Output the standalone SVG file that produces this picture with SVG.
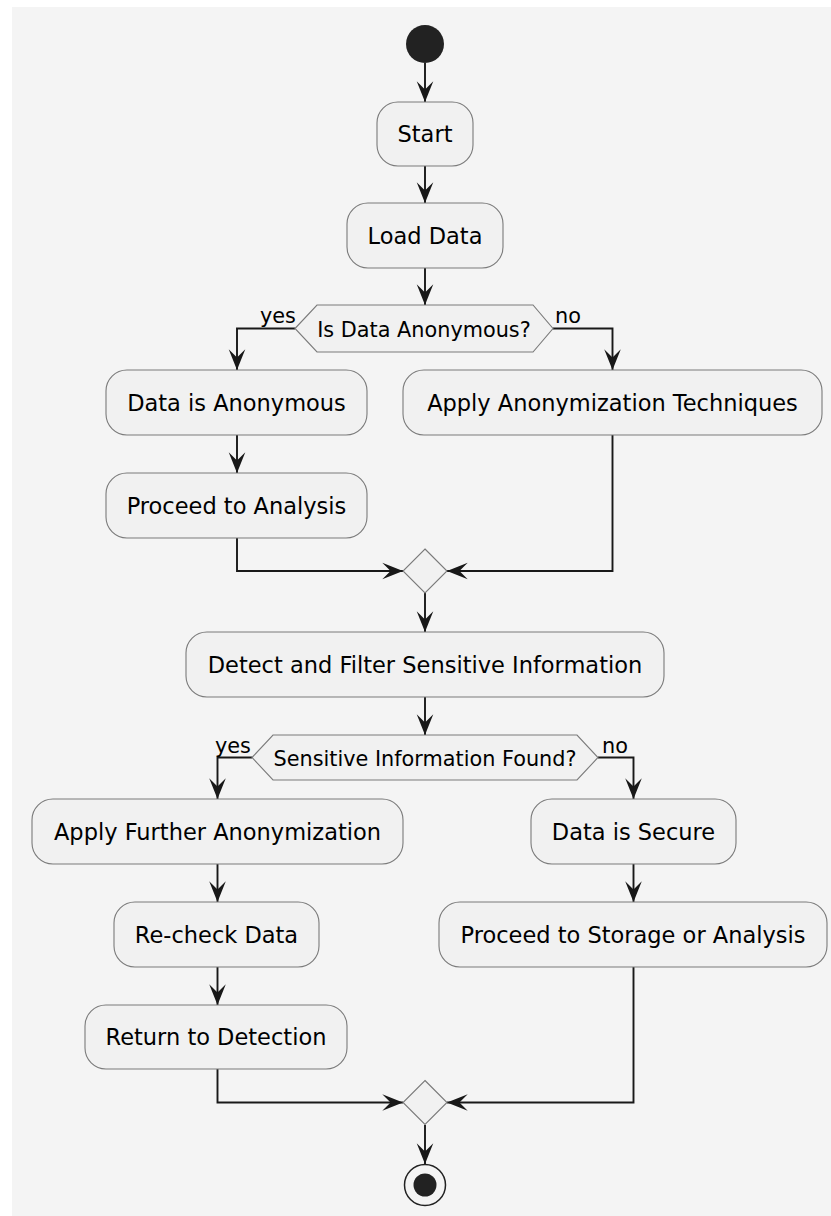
<svg xmlns="http://www.w3.org/2000/svg" width="831" height="1216" viewBox="0 0 831 1216">
<defs>
<style>
.bg{fill:#F4F4F4}
.box{fill:#F1F1F1;stroke:#7a7a7a;stroke-width:1.1}
.t{font-family:"DejaVu Sans",sans-serif;font-size:22.5px;fill:#000;text-anchor:middle}
.ht{font-family:"DejaVu Sans",sans-serif;font-size:20.8px;fill:#000;text-anchor:middle}
.lb{font-family:"DejaVu Sans",sans-serif;font-size:20.8px;fill:#000}
.c{fill:none;stroke:#181818;stroke-width:1.9}
</style>
<marker id="ah" markerUnits="userSpaceOnUse" markerWidth="24" markerHeight="20" viewBox="-20 -9 22 18" refX="0" refY="0" orient="auto" overflow="visible">
<path d="M0,0 L-19,-7.6 L-11.4,0 L-19,7.6 Z" fill="#181818"/>
</marker>
</defs>
<rect x="12" y="7" width="819" height="1209" class="bg"/>
<g id="connectors">
<path class="c" d="M425,63 L425,102" marker-end="url(#ah)"/>
<path class="c" d="M425,166 L425,203" marker-end="url(#ah)"/>
<path class="c" d="M425,268 L425,305" marker-end="url(#ah)"/>
<path class="c" d="M295,328.5 L237,328.5 L237,370" marker-end="url(#ah)"/>
<path class="c" d="M553,328.5 L612.5,328.5 L612.5,370" marker-end="url(#ah)"/>
<path class="c" d="M237,435 L237,473" marker-end="url(#ah)"/>
<path class="c" d="M237,538 L237,571 L403,571" marker-end="url(#ah)"/>
<path class="c" d="M612.5,435 L612.5,571 L447,571" marker-end="url(#ah)"/>
<path class="c" d="M425,593 L425,632" marker-end="url(#ah)"/>
<path class="c" d="M425,697 L425,735" marker-end="url(#ah)"/>
<path class="c" d="M252,757.5 L217.5,757.5 L217.5,799" marker-end="url(#ah)"/>
<path class="c" d="M598,757.5 L633.5,757.5 L633.5,799" marker-end="url(#ah)"/>
<path class="c" d="M217.5,864 L217.5,902" marker-end="url(#ah)"/>
<path class="c" d="M217.5,967 L217.5,1005" marker-end="url(#ah)"/>
<path class="c" d="M217.5,1069 L217.5,1102.5 L403,1102.5" marker-end="url(#ah)"/>
<path class="c" d="M633.5,864 L633.5,902" marker-end="url(#ah)"/>
<path class="c" d="M633.5,967 L633.5,1102.5 L447,1102.5" marker-end="url(#ah)"/>
<path class="c" d="M425,1125 L425,1164" marker-end="url(#ah)"/>
<text class="lb" x="260" y="323">yes</text>
<text class="lb" x="555" y="323">no</text>
<text class="lb" x="215" y="753">yes</text>
<text class="lb" x="602" y="753">no</text>
</g>
<g id="start"><circle cx="425" cy="44" r="19" fill="#222"/></g>
<g id="n-start"><rect class="box" x="377" y="102" width="96" height="64" rx="21"/><text class="t" x="425" y="142">Start</text></g>
<g id="n-load"><rect class="box" x="347" y="203" width="156" height="65" rx="21"/><text class="t" x="425" y="243.5">Load Data</text></g>
<g id="d-anon"><polygon class="box" points="295,328.5 317,305 533,305 553,328.5 533,352 317,352"/><text class="ht" x="424" y="336.5">Is Data Anonymous?</text></g>
<g id="n-isanon"><rect class="box" x="106" y="370" width="261" height="65" rx="21"/><text class="t" x="236.5" y="410.5">Data is Anonymous</text></g>
<g id="n-applyanon"><rect class="box" x="403" y="370" width="419" height="65" rx="21"/><text class="t" x="612.5" y="410.5">Apply Anonymization Techniques</text></g>
<g id="n-proceed"><rect class="box" x="106" y="473" width="261" height="65" rx="21"/><text class="t" x="236.5" y="513.5">Proceed to Analysis</text></g>
<g id="m1"><polygon class="box" points="425,549 447,571 425,593 403,571"/></g>
<g id="n-detect"><rect class="box" x="186" y="632" width="478" height="65" rx="21"/><text class="t" x="425" y="672.5">Detect and Filter Sensitive Information</text></g>
<g id="d-found"><polygon class="box" points="252,757.5 273,735 577,735 598,757.5 577,780 273,780"/><text class="ht" x="425" y="765.5">Sensitive Information Found?</text></g>
<g id="n-further"><rect class="box" x="32" y="799" width="371" height="65" rx="21"/><text class="t" x="217.5" y="839.5">Apply Further Anonymization</text></g>
<g id="n-secure"><rect class="box" x="531" y="799" width="205" height="65" rx="21"/><text class="t" x="633.5" y="839.5">Data is Secure</text></g>
<g id="n-recheck"><rect class="box" x="114" y="902" width="205" height="65" rx="21"/><text class="t" x="216.5" y="942.5">Re-check Data</text></g>
<g id="n-storage"><rect class="box" x="439" y="902" width="388" height="65" rx="21"/><text class="t" x="633" y="942.5">Proceed to Storage or Analysis</text></g>
<g id="n-return"><rect class="box" x="85" y="1005" width="262" height="64" rx="21"/><text class="t" x="216" y="1045">Return to Detection</text></g>
<g id="m2"><polygon class="box" points="425,1080.5 447,1102.5 425,1124.5 403,1102.5"/></g>
<g id="end"><circle cx="425" cy="1185" r="20.5" fill="none" stroke="#222" stroke-width="1.5"/><circle cx="425" cy="1185" r="11.5" fill="#222"/></g>
</svg>
